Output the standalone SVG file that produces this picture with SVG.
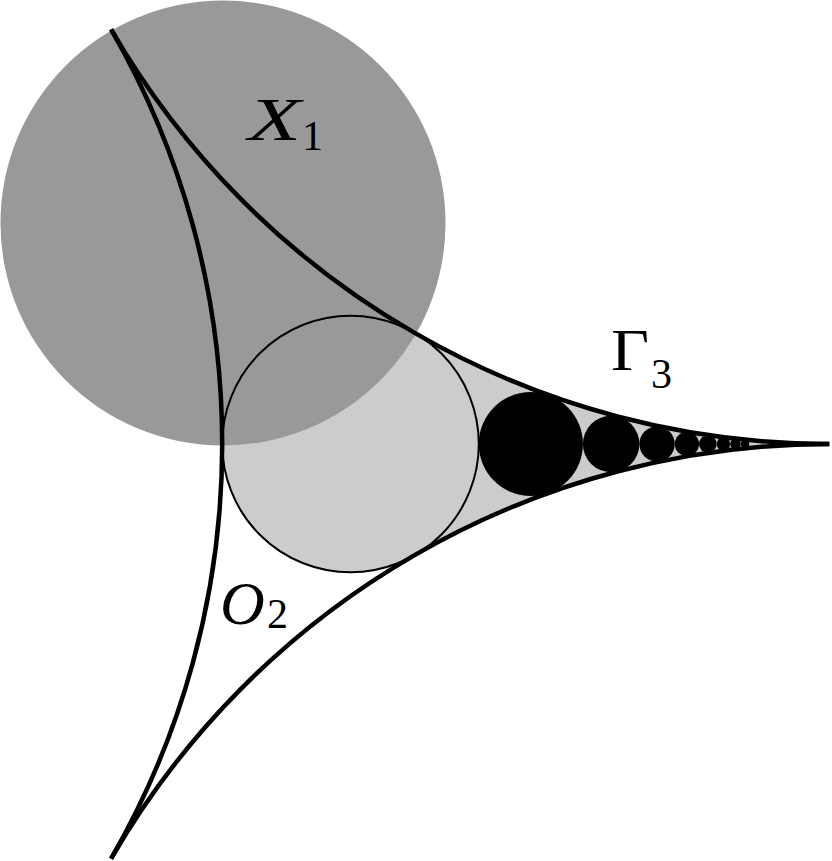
<svg xmlns="http://www.w3.org/2000/svg" width="832" height="861" viewBox="0 0 832 861">
<style>
.curve{fill:none;stroke:#000;stroke-width:4.5}
.outline{fill:none;stroke:#000;stroke-width:2}
.dot{fill:#000}
.lbl{font-family:"Liberation Serif","Times New Roman",serif;fill:#000}
.it{font-style:italic}
</style>
<rect width="832" height="861" fill="#fff"/>
<g id="cusp-region">
<path d="M414.65,332.9 A829.3,829.3 0 0 0 829.3,444 A829.3,829.3 0 0 0 414.65,555.1 A128.3,128.3 0 1 1 414.65,332.9 Z" fill="#ccc"/>
</g>
<g id="X1-disc">
<circle cx="223" cy="223" r="222.5" fill="#999"/>
</g>
<g id="inner-circle">
<circle cx="350.5" cy="444" r="128.3" class="outline"/>
</g>
<g id="chain">
<circle class="dot" cx="530.86" cy="444" r="52.07"/>
<circle class="dot" cx="611.14" cy="444" r="28.22"/>
<circle class="dot" cx="657.05" cy="444" r="17.70"/>
<circle class="dot" cx="686.89" cy="444" r="12.14"/>
<circle class="dot" cx="707.87" cy="444" r="8.84"/>
<circle class="dot" cx="723.44" cy="444" r="6.73"/>
<circle class="dot" cx="735.47" cy="444" r="5.29"/>
<circle class="dot" cx="745.03" cy="444" r="4.27"/>
</g>
<g id="connectors">
<path class="curve" d="M111.1,29.35 A829.3,829.3 0 0 0 829.3,444"/>
<path class="curve" d="M111.1,29.35 A829.3,829.3 0 0 1 111.1,858.65"/>
<path class="curve" d="M829.3,444 A829.3,829.3 0 0 0 111.1,858.65"/>
</g>
<g id="label-X1">
<text class="lbl it" x="248" y="140" font-size="62" textLength="53" lengthAdjust="spacingAndGlyphs">X</text>
<text class="lbl" x="302" y="150" font-size="42">1</text>
</g>
<g id="label-Gamma3">
<text class="lbl" x="611" y="370" font-size="60" textLength="38" lengthAdjust="spacingAndGlyphs">Γ</text>
<text class="lbl" x="651" y="388" font-size="42">3</text>
</g>
<g id="label-O2">
<text class="lbl it" x="220" y="624" font-size="62">O</text>
<text class="lbl" x="267" y="628" font-size="42">2</text>
</g>
</svg>
